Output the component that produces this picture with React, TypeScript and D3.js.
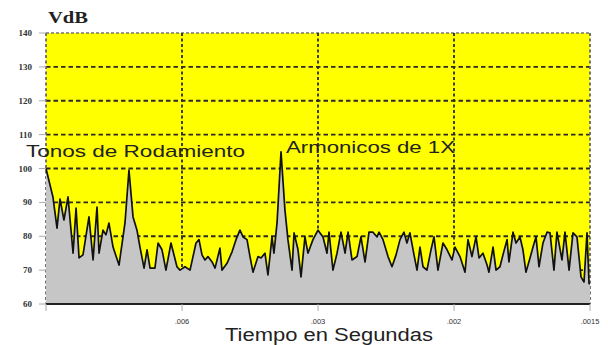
import React from "react";
import * as d3 from "d3";

const yTicks = [60, 70, 80, 90, 100, 110, 120, 130, 140];
const xTickPositions = [1, 2, 3, 4];
const xTickLabels = [".006", ".003", ".002", ".0015"];

const times = [
  0, 0.051, 0.081, 0.103, 0.132, 0.162, 0.199, 0.221, 0.243, 0.272, 0.316, 0.346, 0.375, 0.39,
  0.419, 0.441, 0.463, 0.493, 0.537, 0.581, 0.61, 0.64, 0.669, 0.691, 0.721, 0.743, 0.765, 0.801,
  0.824, 0.853, 0.882, 0.919, 0.963, 0.985, 1.022, 1.059, 1.103, 1.125, 1.147, 1.169, 1.191, 1.221,
  1.243, 1.279, 1.294, 1.331, 1.368, 1.397, 1.426, 1.449, 1.478, 1.5, 1.522, 1.559, 1.581, 1.61,
  1.632, 1.662, 1.676, 1.699, 1.728, 1.757, 1.779, 1.809, 1.824, 1.853, 1.875, 1.904, 1.926, 1.963,
  2.0, 2.037, 2.066, 2.081, 2.11, 2.14, 2.169, 2.199, 2.221, 2.25, 2.287, 2.316, 2.346, 2.375,
  2.404, 2.434, 2.449, 2.478, 2.515, 2.544, 2.574, 2.603, 2.632, 2.654, 2.676, 2.706, 2.728, 2.75,
  2.772, 2.801, 2.831, 2.853, 2.882, 2.919, 2.949, 2.985, 3.007, 3.044, 3.081, 3.103, 3.132, 3.162,
  3.184, 3.213, 3.243, 3.257, 3.287, 3.309, 3.338, 3.36, 3.39, 3.404, 3.434, 3.456, 3.485, 3.507,
  3.529, 3.559, 3.581, 3.603, 3.625, 3.654, 3.684, 3.706, 3.735, 3.757, 3.794, 3.816, 3.846, 3.875,
  3.904, 3.934, 3.956, 3.978, 3.993, 4.0,
];

const vdb = [
  100, 91.6, 82.4, 91, 84.8, 91.6, 75, 88.3, 73.6, 74.5, 85.7, 73, 88.6, 75,
  81.8, 80.4, 83.9, 76.8, 71.5, 84, 99.5, 85.7, 81.8, 76.8, 70.6, 76, 70.6, 70.6,
  78, 76, 70, 78, 71, 70, 71, 70, 78, 79, 74.5, 73, 74, 72.4,
  70.6, 76.5, 70, 72, 75.4, 79, 81.8, 79.8, 79, 74, 69.4, 74, 73.6, 75,
  68.6, 79.8, 75, 84, 104.9, 87.7, 79, 70, 81, 76, 68, 79.8, 75, 79,
  81.8, 79.8, 75, 81.2, 70, 75, 81.2, 75, 81.2, 73, 74, 79.8, 72.4, 81.2,
  81.2, 79.8, 81.2, 79, 74, 71, 74.5, 79, 81.2, 78, 81, 74.5, 70, 76.8,
  71, 70, 76, 79.8, 70, 78, 76, 73, 76.8, 74, 69.4, 79, 74, 79.8,
  73.6, 75, 71.5, 69.4, 76.8, 70, 71, 74.5, 79, 72.4, 81.2, 78, 79.8, 76,
  69.4, 73.6, 76.8, 79.8, 71, 78, 81.2, 81, 70, 81.2, 73, 81.2, 70, 81,
  79.8, 68, 66.5, 81, 66, 66,
];

const W = 608;
const H = 345;
const left = 46;
const right = 590;
const top = 33;
const bottom = 304;

export default function App() {
  const x = d3.scaleLinear().domain([0, 4]).range([left, right]);
  const y = d3.scaleLinear().domain([60, 140]).range([bottom, top]);
  const data = times.map((t, i) => ({ t, v: vdb[i] }));
  const area = d3
    .area<{ t: number; v: number }>()
    .x((d) => x(d.t))
    .y0(y(60))
    .y1((d) => y(d.v));
  const line = d3
    .line<{ t: number; v: number }>()
    .x((d) => x(d.t))
    .y((d) => y(d.v));

  return (
    <svg
      width={W}
      height={H}
      style={{ position: "absolute", left: 0, top: 0, background: "#fff" }}
    >
      <rect x={left} y={top} width={right - left} height={bottom - top} fill="#ffff00" />
      {yTicks
        .filter((v) => v > 60 && v < 140)
        .map((v) => (
          <line
            key={"h" + v}
            x1={left}
            x2={right}
            y1={y(v)}
            y2={y(v)}
            stroke="#2a2a2a"
            strokeWidth={1.8}
            strokeDasharray="4.5,3"
          />
        ))}
      <line x1={left} x2={right} y1={y(140)} y2={y(140)} stroke="#777" strokeWidth={1.4} strokeDasharray="3,2" />
      {[0, 1, 2, 3, 4].map((t) => (
        <line
          key={"v" + t}
          x1={x(t)}
          x2={x(t)}
          y1={top}
          y2={bottom}
          stroke={t === 0 || t === 4 ? "#666" : "#2a2a2a"}
          strokeWidth={1.8}
          strokeDasharray="3,2.5"
        />
      ))}
      <path d={area(data) || ""} fill="#c6c6c6" />
      <path d={line(data) || ""} fill="none" stroke="#111" strokeWidth={1.7} strokeLinejoin="round" />
      <line x1={left} x2={right} y1={bottom} y2={bottom} stroke="#222" strokeWidth={2.2} />
      {yTicks.map((v) => (
        <g key={"yt" + v}>
          <line x1={left - 7} x2={left} y1={y(v)} y2={y(v)} stroke="#aaa" strokeWidth={1} />
          <text
            x={32}
            y={y(v) + 3}
            textAnchor="end"
            fontFamily="'Liberation Serif', serif"
            fontWeight="bold"
            fontSize={9}
            fill="#333"
          >
            {v}
          </text>
        </g>
      ))}
      {xTickPositions.map((t, i) => (
        <g key={"xt" + t}>
          <line x1={x(t)} x2={x(t)} y1={bottom} y2={bottom + 7} stroke="#aaa" strokeWidth={1} />
          <text
            x={x(t)}
            y={324}
            textAnchor="middle"
            fontFamily="'Liberation Sans', Arial, sans-serif"
            fontSize={7.5}
            fill="#333"
          >
            {xTickLabels[i]}
          </text>
        </g>
      ))}
      <line x1={x(0)} x2={x(0)} y1={bottom} y2={bottom + 7} stroke="#aaa" strokeWidth={1} />
      <text
        x={48}
        y={23}
        fontFamily="'Liberation Serif', serif"
        fontWeight="bold"
        fontSize={16}
        fill="#222"
        textLength={40}
        lengthAdjust="spacingAndGlyphs"
      >
        VdB
      </text>
      <text
        x={26}
        y={157}
        fontFamily="'Liberation Sans', Arial, sans-serif"
        fontSize={17}
        fill="#222"
        textLength={219}
        lengthAdjust="spacingAndGlyphs"
      >
        Tonos de Rodamiento
      </text>
      <text
        x={286}
        y={153}
        fontFamily="'Liberation Sans', Arial, sans-serif"
        fontSize={17}
        fill="#222"
        textLength={169}
        lengthAdjust="spacingAndGlyphs"
      >
        Armonicos de 1X
      </text>
      <text
        x={225}
        y={341}
        fontFamily="'Liberation Sans', Arial, sans-serif"
        fontSize={17.5}
        fill="#222"
        textLength={208}
        lengthAdjust="spacingAndGlyphs"
      >
        Tiempo en Segundas
      </text>
    </svg>
  );
}
